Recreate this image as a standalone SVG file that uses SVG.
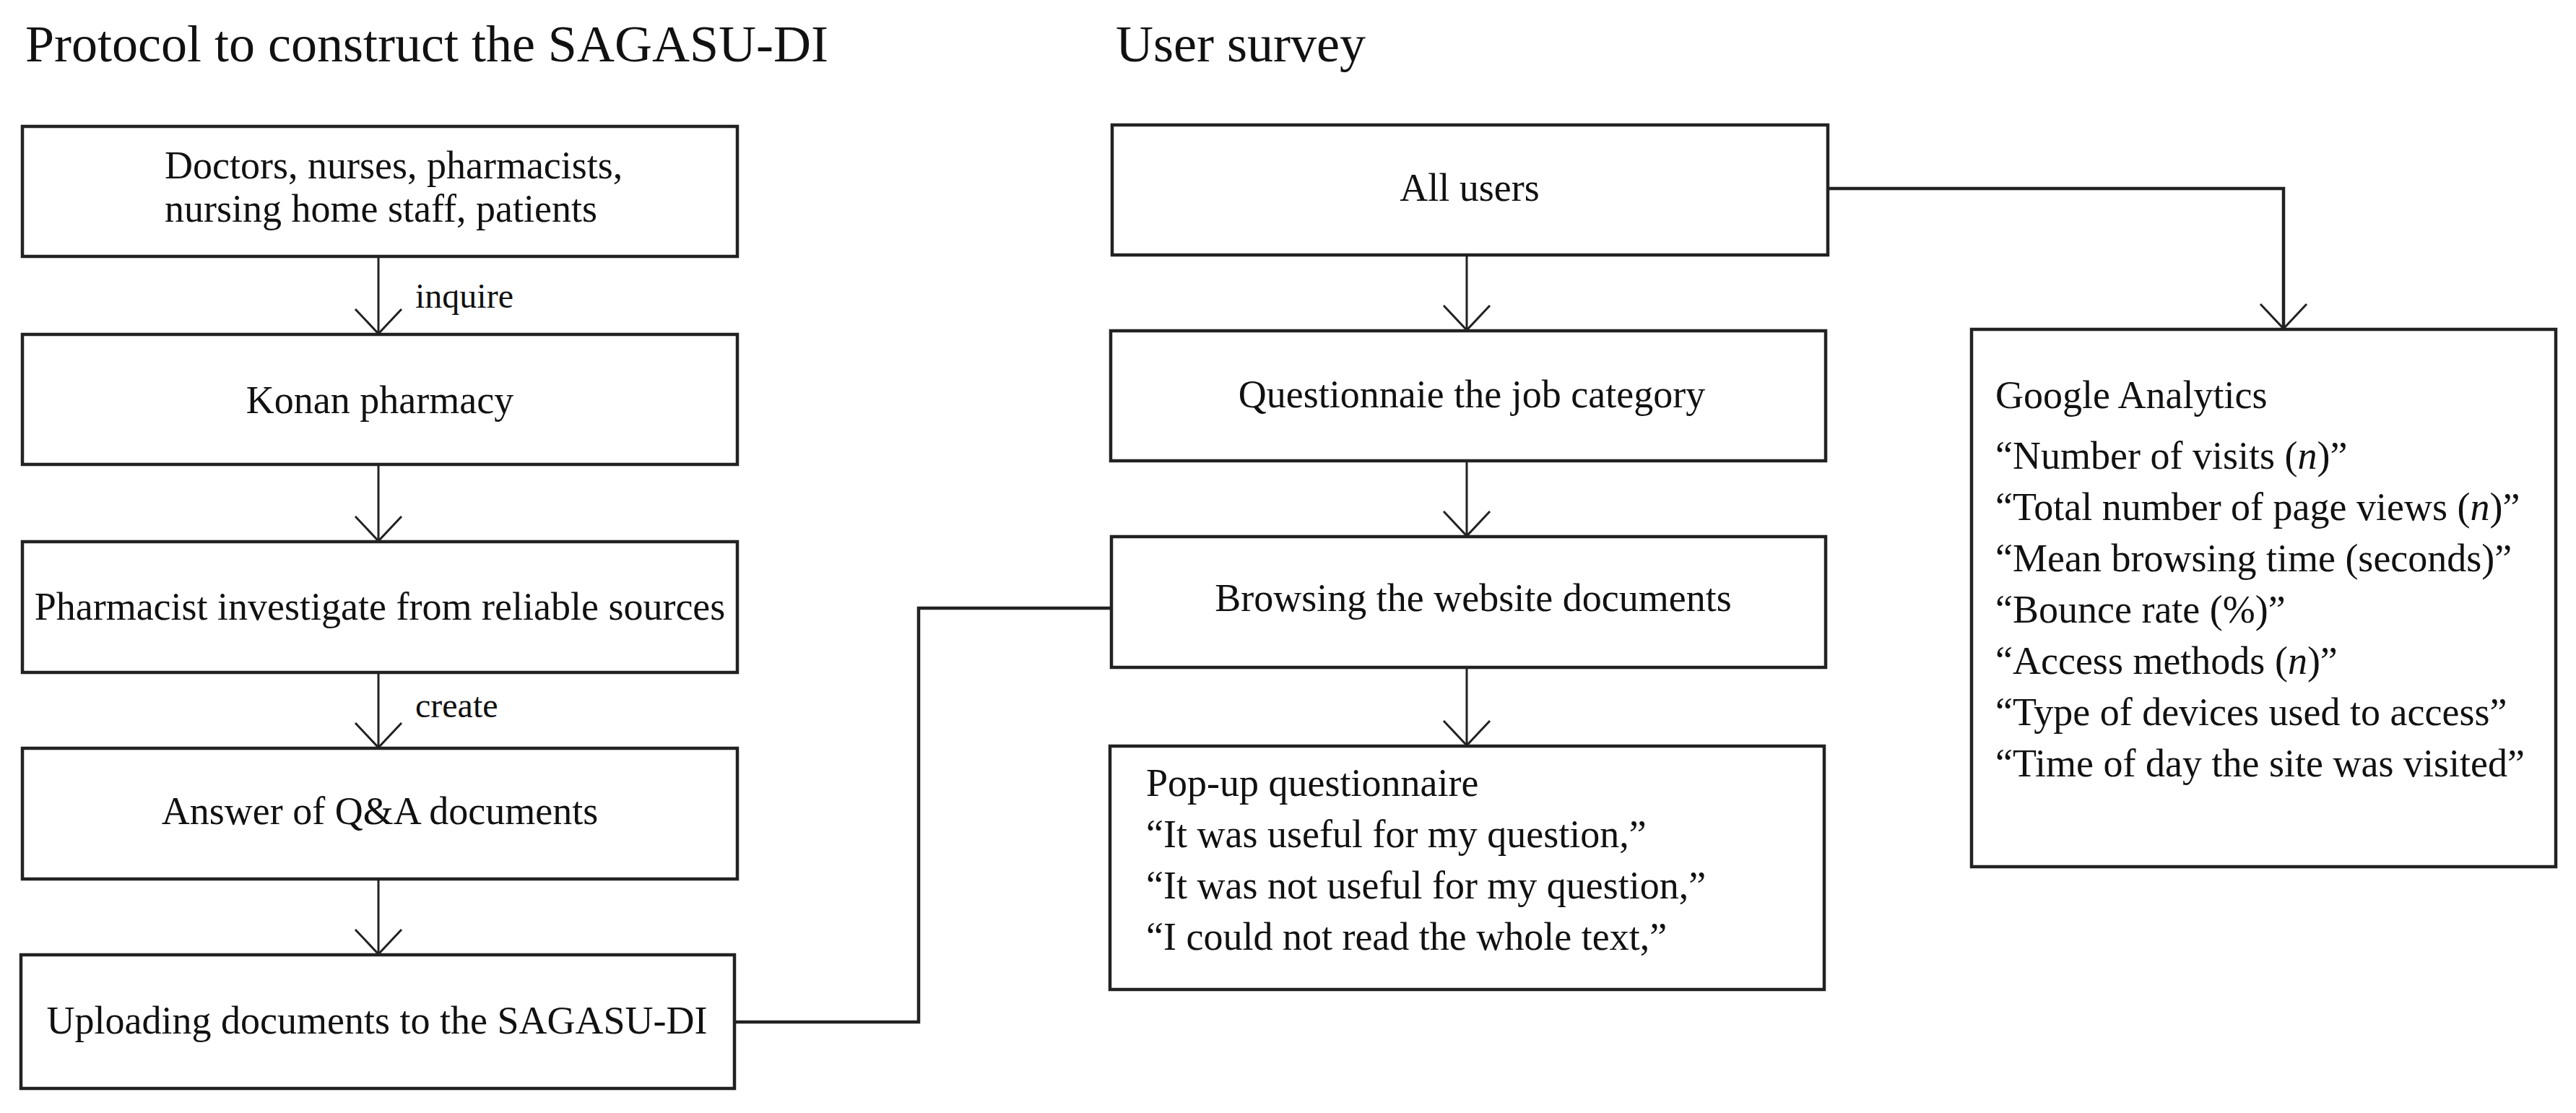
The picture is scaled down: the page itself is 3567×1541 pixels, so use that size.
<svg xmlns="http://www.w3.org/2000/svg" width="3567" height="1541" viewBox="0 0 3567 1541">
<defs>
<style>
.bg{fill:#ffffff}
.box{fill:#ffffff;stroke:#222222;stroke-width:4.5}
.t{font-family:"Liberation Serif","Times New Roman",serif;fill:#111111}
.head{font-size:72px}
.txt{font-size:54px}
.mid{text-anchor:middle}
.lab{font-size:48px}
.con{fill:none;stroke:#222222;stroke-width:3}
.elb{fill:none;stroke:#222222;stroke-width:4.5}
</style>
<marker id="arr" markerUnits="userSpaceOnUse" markerWidth="80" markerHeight="80" refX="0" refY="0" viewBox="-40 -40 80 80" orient="auto" overflow="visible">
<path d="M -34 -32 L 0 0 L -34 32" fill="none" stroke="#222222" stroke-width="3"/>
</marker>
</defs>
<rect class="bg" x="0" y="0" width="3567" height="1541"/>

<g id="headings">
<text class="t head" x="35" y="85">Protocol to construct the SAGASU-DI</text>
<text class="t head" x="1545" y="85">User survey</text>
</g>

<g id="connectors">
<line class="con" x1="524" y1="355" x2="524" y2="462" marker-end="url(#arr)"/>
<line class="con" x1="524" y1="643" x2="524" y2="749" marker-end="url(#arr)"/>
<line class="con" x1="524" y1="931" x2="524" y2="1035" marker-end="url(#arr)"/>
<line class="con" x1="524" y1="1217" x2="524" y2="1321" marker-end="url(#arr)"/>
<line class="con" x1="2031" y1="353" x2="2031" y2="457" marker-end="url(#arr)"/>
<line class="con" x1="2031" y1="638" x2="2031" y2="742" marker-end="url(#arr)"/>
<line class="con" x1="2031" y1="924" x2="2031" y2="1032" marker-end="url(#arr)"/>
<path class="elb" d="M 1017 1415 H 1272 V 842 H 1539"/>
<path class="elb" d="M 2531 261 H 3162 V 455" marker-end="url(#arr)"/>
<text class="t lab" x="575" y="426">inquire</text>
<text class="t lab" x="575" y="993">create</text>
</g>

<g id="node-requesters">
<rect class="box" x="31" y="175" width="990" height="180"/>
<text class="t txt" x="228" y="247">Doctors, nurses, pharmacists,</text>
<text class="t txt" x="228" y="307">nursing home staff, patients</text>
</g>
<g id="node-konan">
<rect class="box" x="31" y="463" width="990" height="180"/>
<text class="t txt mid" x="526" y="572">Konan pharmacy</text>
</g>
<g id="node-pharmacist">
<rect class="box" x="31" y="750" width="990" height="181"/>
<text class="t txt mid" x="526" y="858">Pharmacist investigate from reliable sources</text>
</g>
<g id="node-answer">
<rect class="box" x="31" y="1036" width="990" height="181"/>
<text class="t txt mid" x="526" y="1141">Answer of Q&amp;A documents</text>
</g>
<g id="node-uploading">
<rect class="box" x="29" y="1322" width="988" height="185"/>
<text class="t txt mid" x="522" y="1431">Uploading documents to the SAGASU-DI</text>
</g>

<g id="node-allusers">
<rect class="box" x="1540" y="173" width="991" height="180"/>
<text class="t txt mid" x="2035" y="278">All users</text>
</g>
<g id="node-questionnaire">
<rect class="box" x="1538" y="458" width="990" height="180"/>
<text class="t txt mid" x="2038" y="564">Questionnaie the job category</text>
</g>
<g id="node-browsing">
<rect class="box" x="1539" y="743" width="989" height="181"/>
<text class="t txt mid" x="2040" y="846">Browsing the website documents</text>
</g>
<g id="node-popup">
<rect class="box" x="1537" y="1033" width="989" height="337"/>
<text class="t txt" x="1587" y="1102">Pop-up questionnaire</text>
<text class="t txt" x="1587" y="1173">“It was useful for my question,”</text>
<text class="t txt" x="1587" y="1244">“It was not useful for my question,”</text>
<text class="t txt" x="1587" y="1315">“I could not read the whole text,”</text>
</g>

<g id="node-analytics">
<rect class="box" x="2730" y="456" width="809" height="744"/>
<text class="t txt" x="2763" y="565">Google Analytics</text>
<text class="t txt" x="2763" y="649">“Number of visits (<tspan font-style="italic">n</tspan>)”</text>
<text class="t txt" x="2763" y="720">“Total number of page views (<tspan font-style="italic">n</tspan>)”</text>
<text class="t txt" x="2763" y="791">“Mean browsing time (seconds)”</text>
<text class="t txt" x="2763" y="862">“Bounce rate (%)”</text>
<text class="t txt" x="2763" y="933">“Access methods (<tspan font-style="italic">n</tspan>)”</text>
<text class="t txt" x="2763" y="1004">“Type of devices used to access”</text>
<text class="t txt" x="2763" y="1075">“Time of day the site was visited”</text>
</g>
</svg>
